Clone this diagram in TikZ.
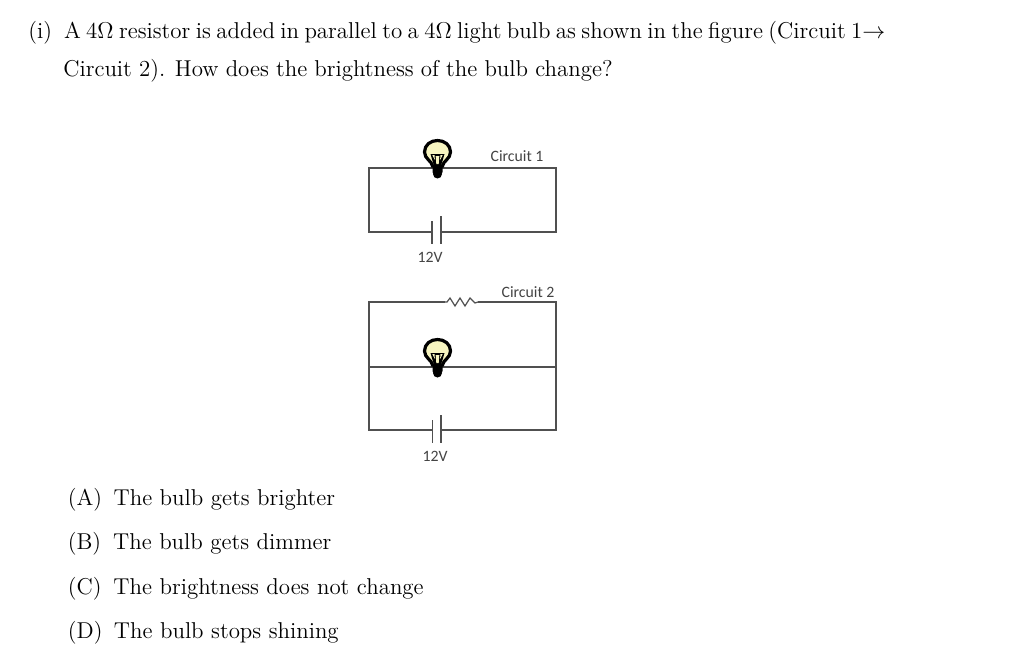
\documentclass[tikz,border=0pt]{standalone}
\usepackage{fontspec}
\newfontfamily\labelfont{Carlito}
\definecolor{wirec}{HTML}{505050}
\definecolor{bulbc}{HTML}{F7F5C0}
\definecolor{labelc}{HTML}{444444}
\tikzset{
  wire/.style={draw=wirec,line width=1.5pt},
  txt/.style={anchor=base west,inner sep=0pt,scale=1.91,font=\fontsize{12}{14}\selectfont},
  lab/.style={anchor=base,inner sep=0pt,text=labelc,font=\labelfont\fontsize{15.8}{17}\selectfont},
  bulb/.pic={
    \fill[black,rounded corners=2pt] (-5,12) rectangle (5,21);
    \fill[black] (0,21) circle (4.5);
    \draw[black,line width=3.2pt,fill=bulbc] (-5,13) .. controls (-5.5,8) and (-13,6) .. (-13,-1)
       .. controls (-13,-8) and (-7,-12.5) .. (0,-12.5)
       .. controls (7,-12.5) and (13,-8) .. (13,-1)
       .. controls (13,6) and (5.5,8) .. (5,13) -- cycle;
    \fill[black] (-7,1) -- (7,1) -- (3.5,13) -- (-3.5,13) -- cycle;
    \fill[bulbc] (-1.8,3) -- (1.8,3) -- (1.2,11) -- (-1.2,11) -- cycle;
    \fill[bulbc] (-5.2,2) -- (-3,2) -- (-2.6,7) -- cycle;
    \fill[bulbc] (5.2,2) -- (3,2) -- (2.6,7) -- cycle;
  },
}
\begin{document}
\begin{tikzpicture}[x=1pt,y=-1pt]
\useasboundingbox (0,0) rectangle (1024,661);
\fill[white] (0,0) rectangle (1024,661);
% question
\node[txt] (q1) at (28,39) {\spaceskip=2.84pt plus 0pt minus 0pt (i)\hspace{0.52em}A 4$\Omega$ resistor is added in parallel to a 4$\Omega$ light bulb as shown in the figure (Circuit 1$\rightarrow$};
\node[txt] (q2) at (63,76) {\spaceskip=3.75pt plus 0pt minus 0pt Circuit 2). How does the brightness of the bulb change?};
% circuit 1
\coordinate (a1) at (369,168); \coordinate (a2) at (556,168);
\coordinate (a3) at (556,232); \coordinate (a4) at (369,232);
\coordinate (b1l) at (432,232); \coordinate (b1r) at (441,232);
\draw[wire] (b1l) -- (a4) -- (a1) -- (a2) -- (a3) -- (b1r);
\draw[wire] (432,221) -- (432,244);
\draw[wire] (441,216) -- (441,244);
\pic at (437.5,153) {bulb};
\node[lab] (c1) at (517,161) {Circuit 1};
\node[lab] (v1) at (430,262) {12V};
% circuit 2
\coordinate (d1) at (369,302); \coordinate (d2) at (556,302);
\coordinate (d3) at (556,430); \coordinate (d4) at (369,430);
\coordinate (m1) at (369,367); \coordinate (m2) at (556,367);
\coordinate (r1) at (445,302); \coordinate (r2) at (478,302);
\coordinate (b2l) at (432.5,430); \coordinate (b2r) at (441,430);
\draw[wire] (r1) -- (d1) -- (d4) -- (b2l);
\draw[wire] (r2) -- (d2) -- (d3) -- (b2r);
\draw[wire] (m1) -- (m2);
\draw[draw=wirec,line width=1.2pt] (r1) -- (447,302) -- (450,298) -- (455,306) -- (460,298) -- (465,306) -- (470,298) -- (475,303) -- (r2);
\draw[wire] (432.5,420) -- (432.5,443);
\draw[wire] (441,415) -- (441,443);
\pic at (437.5,352) {bulb};
\node[lab] (c2) at (528,297) {Circuit 2};
\node[lab] (v2) at (435,461) {12V};
% answers
\node[txt] (A) at (67.5,505) {(A)\hspace{0.5em}The bulb gets brighter};
\node[txt] (B) at (67.5,549) {(B)\hspace{0.52em}The bulb gets dimmer};
\node[txt] (C) at (67.5,594) {(C)\hspace{0.52em}The brightness does not change};
\node[txt] (D) at (67.5,638) {(D)\hspace{0.5em}The bulb stops shining};
\end{tikzpicture}
\end{document}
